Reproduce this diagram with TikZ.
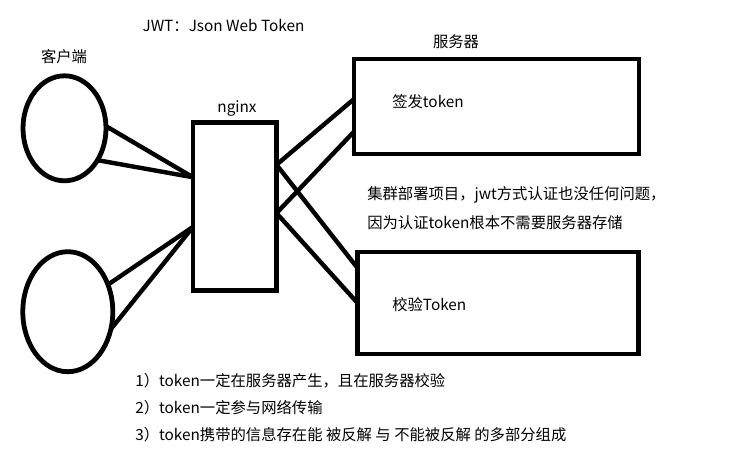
\documentclass[tikz,border=0pt]{standalone}
\usepackage{fontspec}
\setmainfont{Noto Sans CJK SC}
\usetikzlibrary{shapes.geometric}
\newcommand{\pxlen}{0.75pt}

\begin{document}
\begin{tikzpicture}[x=0.75pt, y=-0.75pt, font=\fontsize{11.5}{14}\selectfont]

% --- Define Styles ---
\tikzset{
    client/.style={draw, ellipse, line width=3.6pt, inner sep=0pt, outer sep=0pt},
    srvbox/.style={draw, rectangle, line width=3.6pt, inner sep=0pt, outer sep=0pt},
    link/.style={line width=3.3pt},
    caption/.style={inner sep=0pt},
    note/.style={inner sep=0pt, anchor=west}
}

\useasboundingbox (0,0) rectangle (735,468);

% ================= TITLE =================
\node[caption] (title) at (223.5,25) {JWT：Json Web Token};

% ================= CLIENTS =================
\node[caption] (clientlbl) at (64,57) {客户端};
\node[client, minimum width=83*\pxlen, minimum height=105*\pxlen] (client1) at (64.5,128.3) {};
\node[client, minimum width=90*\pxlen, minimum height=120*\pxlen] (client2) at (67.8,311.7) {};

% ================= NGINX =================
\node[caption] (nginxlbl) at (237,108) {nginx};
\node[srvbox, minimum width=83.5*\pxlen, minimum height=168*\pxlen] (nginx) at (234.75,206.5) {};

% ================= SERVERS =================
\node[caption] (serverlbl) at (456,42) {服务器};
\node[srvbox, minimum width=285*\pxlen, minimum height=95*\pxlen] (issuer) at (496.5,106.5) {};
\node[srvbox, minimum width=281*\pxlen, minimum height=102*\pxlen] (verifier) at (498,303) {};
\node[note] (issuertxt) at (392,102) {签发token};
\node[note] (verifiertxt) at (392,305) {校验Token};

% Connectors
\draw[link] (client1.3) -- (nginx.145);
\draw[link] (client1.-44) -- (nginx.145);
\draw[link] (client2.34) -- (nginx.206);
\draw[link] (client2.-22) -- (nginx.206);
\draw[link] (nginx.45) -- (issuer.177);
\draw[link] (nginx.-9) -- (issuer.190);
\draw[link] (nginx.45) -- (verifier.166);
\draw[link] (nginx.-9) -- (verifier.180);

% ================= NOTES =================
\node[note] (cluster1) at (367,195) {集群部署项目，jwt方式认证也没任何问题，};
\node[note] (cluster2) at (367,223) {因为认证token根本不需要服务器存储};

\node[note] (point1) at (135,381) {1）token一定在服务器产生，且在服务器校验};
\node[note] (point2) at (135,408) {2）token一定参与网络传输};
\node[note] (point3) at (135,435) {3）token携带的信息存在能 被反解 与 不能被反解 的多部分组成};

\end{tikzpicture}
\end{document}
